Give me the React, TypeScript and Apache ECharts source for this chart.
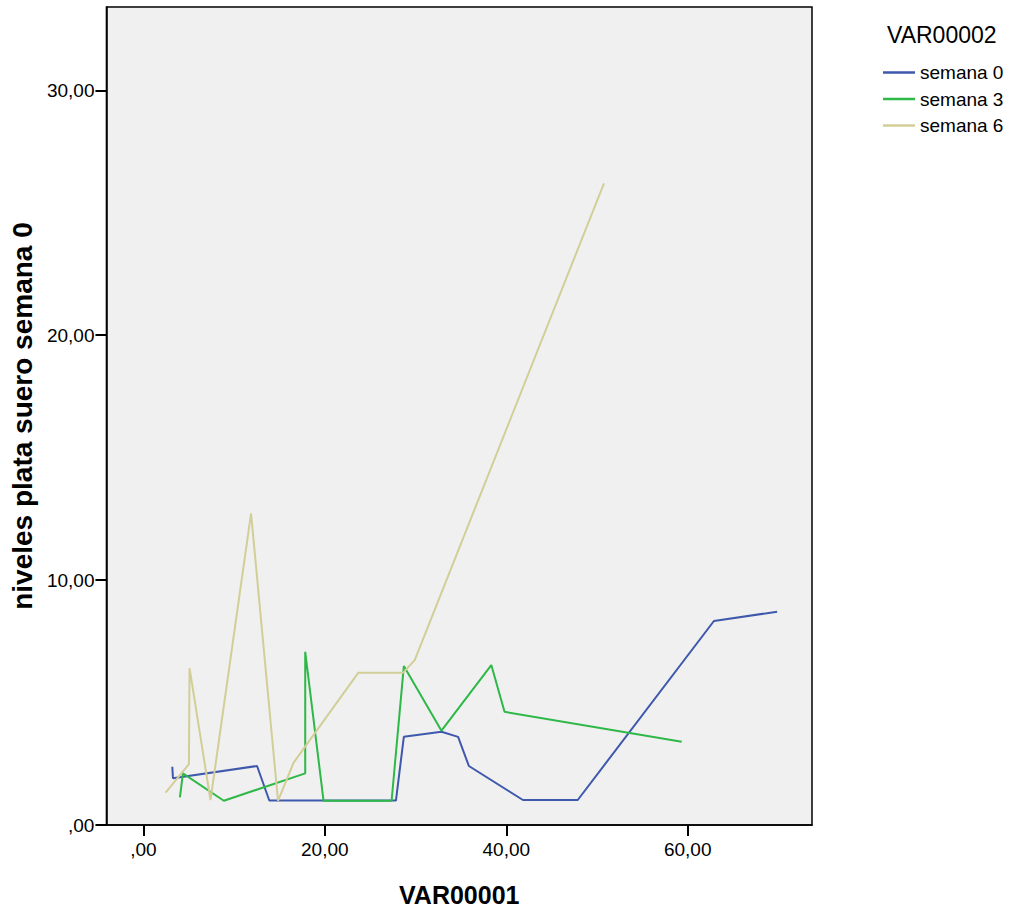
import React, { useEffect, useRef } from "react";
import * as echarts from "echarts";

const legendTitle = "VAR00002";
const xAxisTitle = "VAR00001";
const yAxisTitle = "niveles plata suero semana 0";
const seriesNames = ["semana 0", "semana 3", "semana 6"];
const seriesColors = ["#3E58AC", "#2EB848", "#D3CE97"];

const xTicks = [0, 20, 40, 60];
const yTicks = [0, 10, 20, 30];

const semana0X = [3.19, 3.26, 12.53, 13.88, 27.84, 28.71, 32.86, 34.69, 35.88, 41.84, 47.88, 62.89, 69.86];
const semana0Y = [2.38, 1.91, 2.41, 1.0, 1.0, 3.6, 3.81, 3.6, 2.41, 1.02, 1.02, 8.33, 8.71];

const semana3X = [4.03, 4.36, 8.87, 17.84, 17.84, 19.86, 27.36, 28.71, 32.86, 38.35, 39.81, 59.34];
const semana3Y = [1.13, 2.11, 0.99, 2.11, 7.07, 0.99, 0.99, 6.49, 3.85, 6.53, 4.62, 3.4];

const semana6X = [2.45, 5.02, 5.09, 7.4, 11.87, 14.84, 16.56, 23.7, 28.64, 29.91, 50.77];
const semana6Y = [1.32, 2.49, 6.4, 1.02, 12.72, 0.99, 2.55, 6.22, 6.22, 6.73, 26.2];

const seriesX = [semana0X, semana3X, semana6X];
const seriesY = [semana0Y, semana3Y, semana6Y];

const FONT = "'Liberation Sans', Arial, sans-serif";

const fmt = (v: number) => (v === 0 ? ",00" : v.toFixed(2).replace(".", ","));

export default function App() {
  const ref = useRef<HTMLDivElement>(null);
  useEffect(() => {
    if (!ref.current) return;
    const chart = echarts.init(ref.current, undefined, { renderer: "svg" });
    chart.setOption({
      animation: false,
      backgroundColor: "#ffffff",
      textStyle: { fontFamily: FONT },
      grid: {
        left: 104,
        top: 7,
        width: 708,
        height: 818,
        show: true,
        backgroundColor: "#F0F0F0",
        borderColor: "#000000",
        borderWidth: 1.5,
        containLabel: false,
      },
      graphic: [
        {
          type: "text",
          left: 887,
          top: 23,
          style: { text: legendTitle, fontSize: 23, fill: "#000", fontFamily: FONT },
        },
      ],
      legend: {
        orient: "vertical",
        left: 878,
        top: 58,
        itemWidth: 32,
        itemHeight: 2.5,
        itemGap: 7.5,
        icon: "rect",
        textStyle: { fontSize: 19, color: "#000", fontFamily: FONT },
        data: seriesNames,
      },
      xAxis: {
        type: "value",
        min: -4.07,
        max: 73.7,
        name: xAxisTitle,
        nameLocation: "middle",
        nameGap: 57,
        nameTextStyle: { fontSize: 25, fontWeight: "bold", color: "#000", fontFamily: FONT },
        axisLine: { show: true, onZero: false, lineStyle: { color: "#000", width: 1.5 } },
        axisTick: { show: true, length: 11, customValues: xTicks, lineStyle: { color: "#000", width: 2 } },
        axisLabel: { customValues: xTicks, formatter: fmt, fontSize: 19, color: "#000", margin: 15, fontFamily: FONT },
        splitLine: { show: false },
      },
      yAxis: {
        type: "value",
        min: 0,
        max: 33.4,
        name: yAxisTitle,
        nameLocation: "middle",
        nameGap: 70,
        nameTextStyle: { fontSize: 28, fontWeight: "bold", color: "#000", fontFamily: FONT },
        axisLine: { show: true, onZero: false, lineStyle: { color: "#000", width: 1.5 } },
        axisTick: { show: true, length: 11, customValues: yTicks, lineStyle: { color: "#000", width: 2 } },
        axisLabel: { customValues: yTicks, formatter: fmt, fontSize: 19, color: "#000", margin: 12, fontFamily: FONT },
        splitLine: { show: false },
      },
      series: seriesNames.map((name, i) => ({
        name,
        type: "line",
        showSymbol: false,
        symbol: "none",
        color: seriesColors[i],
        lineStyle: { color: seriesColors[i], width: 2 },
        data: seriesX[i].map((x, j) => [x, seriesY[i][j]]),
      })),
    });
    return () => chart.dispose();
  }, []);
  return <div ref={ref} style={{ position: "fixed", left: 0, top: 0, width: 1011, height: 912 }} />;
}
